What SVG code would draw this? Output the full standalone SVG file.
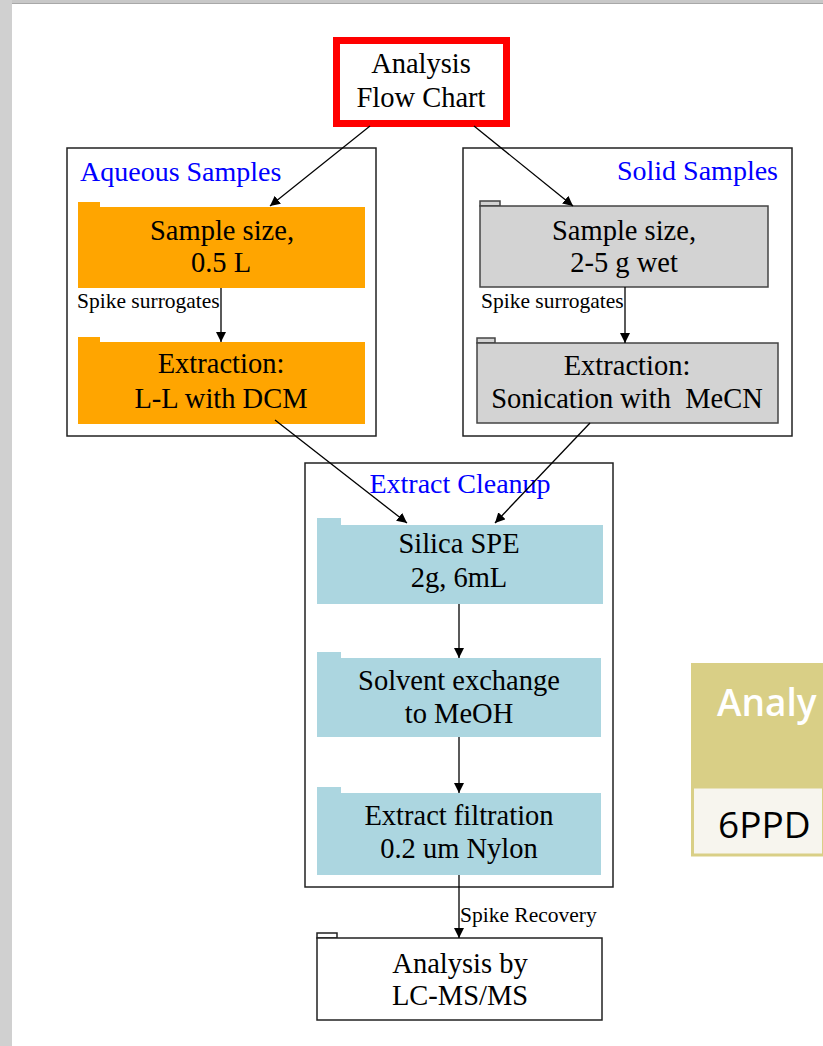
<svg xmlns="http://www.w3.org/2000/svg" width="823" height="1046" viewBox="0 0 823 1046">
<defs>
<marker id="ah" viewBox="0 0 10 10" refX="10" refY="5" markerWidth="10" markerHeight="10" markerUnits="userSpaceOnUse" orient="auto">
<path d="M0,0 L10,5 L0,10 Z" fill="#000"/>
</marker>
<style>
.t{font-family:"Liberation Serif","Times New Roman",serif;font-size:28.5px;fill:#000;text-anchor:middle}
.lbl{font-family:"Liberation Serif","Times New Roman",serif;font-size:28px;fill:#0000ff}
.el{font-family:"Liberation Serif","Times New Roman",serif;font-size:21.5px;fill:#000}
.cl{fill:none;stroke:#222;stroke-width:1.5}
.orange{fill:#ffa500}
.gray{fill:#d3d3d3;stroke:#444;stroke-width:1.5}
.blue{fill:#acd6e0}
.white{fill:#fff;stroke:#222;stroke-width:1.5}
.edge{fill:none;stroke:#000;stroke-width:1.3;marker-end:url(#ah)}
</style>
</defs>
<rect x="0" y="0" width="823" height="1046" fill="#fff"/>
<rect x="0" y="0" width="12" height="1046" fill="#d0d0d0"/>
<rect x="12" y="0" width="811" height="3" fill="#c8c8c8"/>
<line x1="12" y1="3.5" x2="823" y2="3.5" stroke="#a8a8a8" stroke-width="1"/>

<g id="table">
<rect x="691" y="663" width="132" height="124" fill="#d9cf86"/>
<rect x="692.5" y="787" width="131" height="68" fill="#f7f5ee" stroke="#d9cf86" stroke-width="3"/>
<text x="717" y="716" style="font-family:'Open Sans','Noto Sans',sans-serif;font-size:37px;font-weight:600;fill:#fff">Analy</text>
<text x="718" y="838" style="font-family:'Open Sans','Noto Sans',sans-serif;font-size:37px;fill:#000">6PPD</text>
</g>

<g id="cluster-aqueous">
<rect class="cl" x="67" y="148" width="309" height="288"/>
<text class="lbl" x="80" y="181">Aqueous Samples</text>
</g>
<g id="cluster-solid">
<rect class="cl" x="463" y="148" width="329" height="288"/>
<text class="lbl" x="778" y="180" text-anchor="end">Solid Samples</text>
</g>
<g id="cluster-cleanup">
<rect class="cl" x="305" y="463" width="308" height="424"/>
<text class="lbl" x="460" y="493" text-anchor="middle">Extract Cleanup</text>
</g>

<g id="start">
<rect x="336.5" y="40.5" width="170" height="83" fill="#fff" stroke="#ff0000" stroke-width="7"/>
<text class="t" x="421" y="73">Analysis</text>
<text class="t" x="421" y="107">Flow Chart</text>
</g>

<g id="aq-size">
<rect class="orange" x="78" y="202" width="22" height="6"/>
<rect class="orange" x="78" y="207" width="287" height="81"/>
<text class="t" x="222" y="240">Sample size,</text>
<text class="t" x="221" y="272">0.5 L</text>
</g>
<g id="aq-extract">
<rect class="orange" x="78" y="337" width="22" height="6"/>
<rect class="orange" x="78" y="342" width="287" height="82"/>
<text class="t" x="221" y="373">Extraction:</text>
<text class="t" x="221" y="408">L-L with DCM</text>
</g>

<g id="solid-size">
<rect class="gray" x="480" y="201" width="20" height="5"/>
<rect class="gray" x="480" y="206" width="288" height="81"/>
<text class="t" x="624" y="240">Sample size,</text>
<text class="t" x="624" y="272">2-5 g wet</text>
</g>
<g id="solid-extract">
<rect class="gray" x="477" y="338" width="18" height="5"/>
<rect class="gray" x="477" y="343" width="301" height="80"/>
<text class="t" x="627" y="375">Extraction:</text>
<text class="t" x="627" y="408" style="white-space:pre">Sonication with  MeCN</text>
</g>

<g id="silica">
<rect class="blue" x="317" y="518" width="24" height="8"/>
<rect class="blue" x="317" y="525" width="286" height="79"/>
<text class="t" x="459" y="553">Silica SPE</text>
<text class="t" x="459" y="587">2g, 6mL</text>
</g>
<g id="solvent">
<rect class="blue" x="317" y="652" width="24" height="7"/>
<rect class="blue" x="317" y="658" width="284" height="79"/>
<text class="t" x="459" y="690">Solvent exchange</text>
<text class="t" x="459" y="723">to MeOH</text>
</g>
<g id="filtration">
<rect class="blue" x="317" y="787" width="24" height="7"/>
<rect class="blue" x="317" y="793" width="284" height="82"/>
<text class="t" x="459" y="825">Extract filtration</text>
<text class="t" x="459" y="858">0.2 um Nylon</text>
</g>

<g id="analysis">
<rect class="white" x="317" y="933" width="20" height="5"/>
<rect class="white" x="317" y="938" width="285" height="82"/>
<text class="t" x="460" y="973">Analysis by</text>
<text class="t" x="460" y="1005">LC-MS/MS</text>
</g>

<g id="connectors">
<path class="edge" d="M370,126 L270,206"/>
<path class="edge" d="M474,126 L573,206"/>
<path class="edge" d="M221,288 L221,342"/>
<text class="el" x="77" y="308">Spike surrogates</text>
<path class="edge" d="M625,287 L625,343"/>
<text class="el" x="481" y="308">Spike surrogates</text>
<path class="edge" d="M275,420 L407,523"/>
<path class="edge" d="M590,423 L495,523"/>
<path class="edge" d="M459,604 L459,658"/>
<path class="edge" d="M459,737 L459,793"/>
<path class="edge" d="M459,875 L459,938"/>
<text class="el" x="460" y="922">Spike Recovery</text>
</g>
</svg>
